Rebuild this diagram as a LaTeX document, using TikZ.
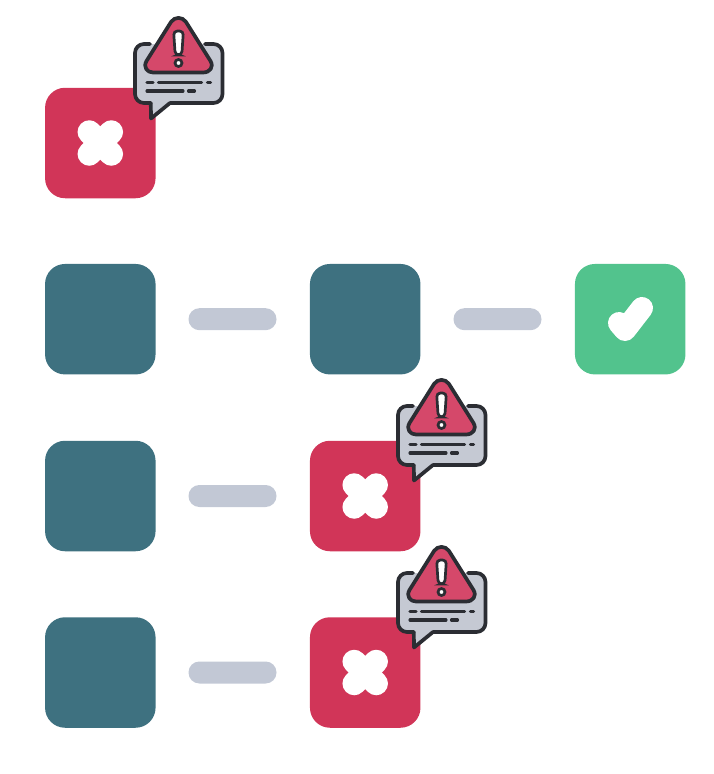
\documentclass[tikz,border=0pt]{standalone}
\definecolor{teal1}{HTML}{3E7180}
\definecolor{red1}{HTML}{D13558}
\definecolor{green1}{HTML}{52C38D}
\definecolor{pill1}{HTML}{C2C8D5}
\definecolor{ink}{HTML}{2B2D33}
\definecolor{tri}{HTML}{D5486A}
\definecolor{bub}{HTML}{C5C9D3}
\tikzset{
  x=1pt,y=-1pt,
  tile/.style={rectangle,rounded corners=20pt,minimum width=110.5pt,minimum height=110.5pt,inner sep=0pt,draw=none},
  tealtile/.style={tile,fill=teal1},
  redtile/.style={tile,fill=red1},
  greentile/.style={tile,fill=green1},
  pillbar/.style={rectangle,rounded corners=10.9pt,minimum width=88pt,minimum height=22pt,inner sep=0pt,fill=pill1,draw=none},
  glyph/.style={draw=white,line width=22pt,line cap=round,line join=round},
  inkline/.style={draw=ink,line width=3.1pt,line cap=round},
  outline/.style={draw=ink,line width=3.7pt,line join=round,line cap=round},
  warnicon/.pic={
    % bubble body and tail: fill first, then an open outline leaving a small gap at the top left
    \fill[bub,rounded corners=9pt] (135,44) rectangle (222.5,103);
    \fill[bub] (151,100) -- (170,100) -- (170,103) -- (151,118.5) -- cycle;
    \draw[outline,rounded corners=9pt]
      (150,44) -- (135,44) -- (135,103) -- (150.8,103);
    \draw[outline,line join=round]
      (150.8,103) -- (151,118.5) -- (170,103);
    \draw[outline,rounded corners=9pt]
      (170,103) -- (222.5,103) -- (222.5,44) -- (205,44);
    % warning triangle
    \draw[fill=tri,outline]
      (153,72.5) -- (203,72.5)
      .. controls (210,72.5) and (214,67) .. (210.5,61)
      -- (186,22)
      .. controls (182.5,16.5) and (174.5,16.5) .. (171,22)
      -- (146.5,61)
      .. controls (143,67) and (147,72.5) .. cycle;
    \draw[fill=white,draw=ink,line width=2.7pt,rounded corners=3.8pt]
      (173.6,31) -- (183.4,31) -- (181.8,55) -- (175.2,55) -- cycle;
    \draw[fill=white,draw=ink,line width=2.7pt] (178.5,63) circle (3.5pt);
    \draw[inkline] (147,82.5) -- (153,82.5);
    \draw[inkline] (158.5,82.5) -- (201.5,82.5);
    \draw[inkline] (207.5,82.5) -- (210.5,82.5);
    \draw[inkline] (147,91) -- (183,91);
    \draw[inkline] (188.5,91) -- (194.5,91);
  },
  crossmark/.pic={
    \draw[draw=white,line width=23.5pt,line cap=round] (-11,-11) -- (11,11);
    \draw[draw=white,line width=23.5pt,line cap=round] (-11,11) -- (11,-11);
  }
}
\begin{document}
\begin{tikzpicture}
\useasboundingbox (0,0) rectangle (714,774);
% row 1
\node[redtile] (r1a) at (100.3,143) {};
% row 2
\node[tealtile] (r2a) at (100.3,319.2) {};
\node[pillbar] (r2p) at (232.5,319.2) {};
\node[tealtile] (r2b) at (365.2,319.2) {};
\node[pillbar] (r2q) at (497.5,319.2) {};
\node[greentile] (r2c) at (630.2,319.2) {};
% row 3
\node[tealtile] (r3a) at (100.3,496) {};
\node[pillbar] (r3p) at (232.5,496) {};
\node[redtile] (r3b) at (365.2,496) {};
% row 4
\node[tealtile] (r4a) at (100.3,672.5) {};
\node[pillbar] (r4p) at (232.5,672.5) {};
\node[redtile] (r4b) at (365.2,672.5) {};
% marks
\pic at (r1a.center) {crossmark};
\pic at (r3b.center) {crossmark};
\pic at (r4b.center) {crossmark};
\draw[glyph] (619,323) -- (625,330) -- (642,308);
% warning icons
\pic at (0,0) {warnicon};
\pic at (263,362) {warnicon};
\pic at (263,529) {warnicon};
\end{tikzpicture}
\end{document}
